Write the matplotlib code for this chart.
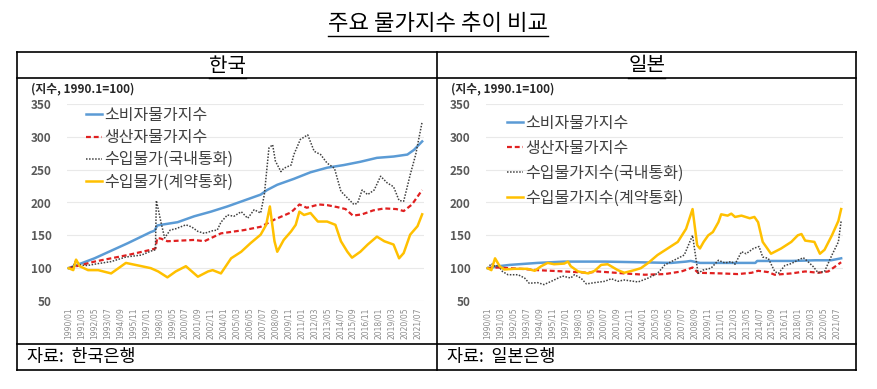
import matplotlib
matplotlib.use('Agg')
import matplotlib.pyplot as plt
from matplotlib.lines import Line2D

plt.rcParams['font.family'] = ['Noto Sans CJK KR', 'DejaVu Sans']

# x tick labels (every 14 months)
tick_labels = ['1990/01', '1991/03', '1992/05', '1993/07', '1994/09', '1995/11',
               '1997/01', '1998/03', '1999/05', '2000/07', '2001/09', '2002/11',
               '2004/01', '2005/03', '2006/05', '2007/07', '2008/09', '2009/11',
               '2011/01', '2012/03', '2013/05', '2014/07', '2015/09', '2016/11',
               '2018/01', '2019/03', '2020/05', '2021/07']

# ---- Korea (1990.1 = 100) ----
kr_cpi_m = ['1990/01', '1992/05', '1995/05', '1997/06', '1997/10', '1998/01', '1998/05',
            '1999/11', '2001/05', '2002/11', '2004/05', '2005/11', '2007/05', '2007/12',
            '2008/11', '2010/05', '2011/11', '2013/05', '2014/11', '2016/05', '2017/11',
            '2019/05', '2020/08', '2021/03', '2021/12']
kr_cpi = [100, 115, 138, 155, 157, 165, 166, 170, 179, 186, 194, 203, 212, 219,
          227, 236, 246, 253, 257, 262, 268, 270, 273, 280, 293]

kr_ppi_m = ['1990/01', '1992/05', '1995/05', '1997/06', '1997/11', '1998/01', '1998/05',
            '1998/12', '2001/05', '2002/04', '2003/10', '2005/11', '2007/05', '2008/08',
            '2010/02', '2010/11', '2011/07', '2012/08', '2013/05', '2014/04', '2015/01',
            '2015/09', '2016/07', '2017/07', '2018/07', '2019/08', '2020/04', '2021/01',
            '2021/12']
kr_ppi = [100, 110, 120, 128, 130, 146, 145, 141, 143, 141, 153, 158, 163, 174,
          185, 197, 192, 197, 196, 193, 190, 180, 182, 188, 191, 190, 187, 197, 219]

kr_imp_krw_m = ['1990/01', '1990/06', '1990/09', '1991/01', '1991/09', '1992/09',
                '1993/11', '1995/03', '1996/08', '1997/06', '1997/11', '1997/12',
                '1998/02', '1998/05', '1998/09', '1999/03', '1999/09', '2000/08',
                '2001/02', '2001/09', '2002/04', '2003/01', '2003/06', '2003/10',
                '2004/05', '2004/12', '2005/08', '2006/03', '2006/10', '2007/05',
                '2007/09', '2008/02', '2008/06', '2008/09', '2009/03', '2009/06',
                '2010/02', '2010/05', '2010/12', '2011/08', '2012/03', '2012/10',
                '2013/05', '2014/01', '2014/08', '2015/03', '2015/10', '2016/02',
                '2016/07', '2017/01', '2017/08', '2018/03', '2018/10', '2019/05',
                '2019/11', '2020/04', '2020/11', '2021/05', '2021/12']
kr_imp_krw = [100, 103, 113, 105, 104, 107, 110, 117, 120, 126, 128, 203, 190, 170,
              146, 158, 160, 166, 163, 156, 153, 157, 158, 170, 181, 179, 186, 176,
              189, 184, 212, 283, 288, 263, 247, 252, 257, 273, 296, 303, 278, 273,
              260, 252, 217, 207, 197, 199, 219, 212, 219, 240, 230, 224, 203, 202,
              242, 273, 323]

kr_imp_con_m = ['1990/01', '1990/06', '1990/09', '1991/01', '1991/10', '1992/09',
                '1993/11', '1995/03', '1996/08', '1997/06', '1998/02', '1998/12',
                '1999/09', '2000/08', '2001/09', '2002/08', '2003/01', '2003/10',
                '2004/09', '2005/08', '2006/06', '2007/05', '2007/11', '2008/03',
                '2008/08', '2008/11', '2009/06', '2010/02', '2010/07', '2010/11',
                '2011/04', '2011/11', '2012/07', '2013/05', '2014/02', '2014/08',
                '2015/03', '2015/08', '2016/05', '2017/01', '2017/11', '2018/07',
                '2019/05', '2019/11', '2020/04', '2020/11', '2021/07', '2021/12']
kr_imp_con = [100, 97, 113, 103, 97, 97, 92, 108, 103, 100, 95, 86, 95, 103, 87, 95,
              97, 92, 115, 125, 138, 151, 166, 194, 141, 125, 143, 156, 166, 186, 181,
              184, 171, 171, 166, 141, 125, 116, 125, 136, 148, 141, 136, 115, 123,
              151, 164, 182]

# ---- Japan (1990.1 = 100) ----
jp_cpi_m = ['1990/01', '1991/01', '1992/01', '1994/07', '1996/12', '2000/08', '2003/08',
            '2006/08', '2007/12', '2008/05', '2009/03', '2012/07', '2014/03', '2014/05',
            '2017/07', '2019/08', '2021/01', '2021/12']
jp_cpi = [100, 103, 105, 108, 110, 110, 109, 108, 110, 111, 108, 108, 108, 111,
          111, 112, 112, 115]

jp_ppi_m = ['1990/01', '1990/12', '1993/01', '1994/07', '1996/12', '1999/02', '1999/12',
            '2002/05', '2004/03', '2006/01', '2007/07', '2008/07', '2009/01', '2011/02',
            '2012/08', '2013/11', '2014/06', '2015/05', '2015/12', '2017/06', '2018/09',
            '2019/11', '2020/10', '2021/12']
jp_ppi = [100, 101, 99, 97, 95, 93, 95, 92, 90, 91, 95, 101, 93, 92, 91, 93, 96, 94,
          90, 92, 95, 93, 95, 109]

jp_imp_jpy_m = ['1990/01', '1990/05', '1990/10', '1990/12', '1991/05', '1991/11',
                '1992/10', '1993/05', '1993/10', '1994/07', '1995/02', '1995/10',
                '1996/10', '1997/07', '1997/11', '1998/06', '1998/12', '1999/09',
                '2000/08', '2001/03', '2001/10', '2002/05', '2003/08', '2004/07',
                '2005/05', '2006/01', '2006/08', '2007/03', '2007/10', '2008/07',
                '2009/01', '2009/06', '2010/03', '2010/11', '2011/06', '2012/01',
                '2012/05', '2012/12', '2013/05', '2014/01', '2014/07', '2014/11',
                '2015/05', '2015/12', '2016/04', '2016/11', '2017/06', '2018/01',
                '2018/07', '2018/12', '2019/06', '2019/11', '2020/06', '2021/02',
                '2021/09', '2021/12']
jp_imp_jpy = [100, 107, 102, 105, 95, 90, 90, 85, 77, 78, 75, 80, 88, 85, 90, 85, 76,
              78, 80, 84, 80, 82, 79, 85, 92, 105, 110, 115, 120, 150, 92, 97, 100,
              112, 108, 110, 106, 125, 122, 130, 133, 117, 115, 95, 92, 104, 107, 112,
              116, 110, 102, 93, 95, 120, 140, 172]

jp_imp_con_m = ['1990/01', '1990/05', '1990/09', '1991/02', '1991/07', '1992/06',
                '1993/08', '1994/04', '1994/11', '1995/06', '1996/01', '1996/12',
                '1997/04', '1997/07', '1998/03', '1999/02', '1999/09', '2000/04',
                '2000/11', '2001/10', '2002/05', '2003/04', '2003/11', '2004/07',
                '2005/05', '2006/04', '2007/03', '2007/12', '2008/07', '2008/12',
                '2009/03', '2009/07', '2009/12', '2010/05', '2010/11', '2011/02',
                '2011/09', '2012/01', '2012/05', '2012/12', '2013/09', '2014/02',
                '2014/06', '2014/11', '2015/08', '2016/07', '2017/06', '2018/01',
                '2018/05', '2018/09', '2019/07', '2020/01', '2020/06', '2021/02',
                '2021/09', '2021/12']
jp_imp_con = [100, 97, 115, 103, 98, 99, 99, 96, 103, 108, 106, 107, 110, 103, 95,
              92, 96, 105, 106, 97, 93, 97, 100, 108, 120, 130, 140, 160, 190, 135,
              130, 140, 150, 155, 170, 182, 180, 183, 178, 180, 176, 178, 170, 140,
              122, 130, 140, 150, 152, 142, 140, 122, 128, 150, 172, 190]

kr_labels = ['소비자물가지수', '생산자물가지수', '수입물가(국내통화)', '수입물가(계약통화)']
jp_labels = ['소비자물가지수', '생산자물가지수', '수입물가지수(국내통화)', '수입물가지수(계약통화)']

W, H = 878, 389


def month_index(s):
    y, m = s.split('/')
    return (int(y) - 1990) * 12 + int(m) - 1


def fx(px):
    return px / W


def fy(py):
    return 1 - py / H


def draw_panel(fig, left, series, labels, leg_x, leg_y, leg_space):
    ax = fig.add_axes([fx(left), fy(301), 357 / W, (301 - 104) / H])
    styles = [dict(color='#5B9BD5', lw=1.8, ls='-'),
              dict(color='#E02020', lw=1.6, ls=(0, (2.2, 1.3))),
              dict(color='#404040', lw=1.1, ls=(0, (1, 1))),
              dict(color='#FFC000', lw=1.8, ls='-')]
    for (m, v), st, lab in zip(series, styles, labels):
        ax.plot([month_index(s) for s in m], v, label=lab, **st)
    ax.set_xlim(-1.8, 385)
    ax.set_ylim(50, 350)
    ax.set_yticks(range(50, 351, 50))
    ax.set_xticks([month_index(s) for s in tick_labels])
    ax.set_xticklabels(tick_labels, rotation=90, fontsize=5.5, color='#8C8C8C',
                       family=['DejaVu Sans'])
    ax.tick_params(axis='x', length=0, pad=4.5)
    ax.tick_params(axis='y', length=0, pad=11, labelsize=8.5, labelcolor='#595959')
    for t in ax.get_yticklabels():
        t.set_fontweight('bold')
    ax.yaxis.grid(True, color='#E9E9E9', lw=0.8)
    ax.set_axisbelow(True)
    for sp in ax.spines.values():
        sp.set_visible(False)
    ax.legend(loc='upper left', bbox_to_anchor=(fx(leg_x), fy(leg_y)),
              bbox_transform=fig.transFigure, frameon=False, fontsize=11.5,
              handlelength=1.0, handletextpad=0.15, labelspacing=leg_space,
              borderaxespad=0, borderpad=0, labelcolor='#404040')
    return ax


def underline(fig, t, lw=1.0, gap=1.5):
    fig.canvas.draw()
    bb = t.get_window_extent()
    inv = fig.transFigure.inverted()
    (x0, y0), (x1, _) = inv.transform([(bb.x0, bb.y0 - gap), (bb.x1, bb.y0)])
    fig.add_artist(Line2D([x0, x1], [y0, y0], transform=fig.transFigure,
                          color='black', lw=lw))


fig = plt.figure(figsize=(W / 100, H / 100), dpi=100)

# table frame
frame = [((17, 856), (52, 52)), ((17, 856), (78, 78)), ((17, 856), (344, 344)),
         ((17, 856), (370, 370)), ((17, 17), (52, 370)), ((437, 437), (52, 370)),
         ((856, 856), (52, 370))]
for xs, ys in frame:
    fig.add_artist(Line2D([fx(x) for x in xs], [fy(y) for y in ys],
                          transform=fig.transFigure, color='black', lw=1.2))

title = fig.text(fx(438), fy(23), '주요 물가지수 추이 비교', ha='center', va='center',
                 fontsize=16)
h1 = fig.text(fx(227), fy(66), '한국', ha='center', va='center', fontsize=14.5)
h2 = fig.text(fx(647), fy(66), '일본', ha='center', va='center', fontsize=14.5)

fig.text(fx(27), fy(357), '자료:  한국은행', ha='left', va='center', fontsize=12.5)
fig.text(fx(447), fy(357), '자료:  일본은행', ha='left', va='center', fontsize=12.5)

fig.text(fx(31), fy(89), '(지수, 1990.1=100)', ha='left', va='center', fontsize=8.5,
         fontweight='bold', color='#262626')
fig.text(fx(451), fy(89), '(지수, 1990.1=100)', ha='left', va='center', fontsize=8.5,
         fontweight='bold', color='#262626')

draw_panel(fig, 67, [(kr_cpi_m, kr_cpi), (kr_ppi_m, kr_ppi),
                     (kr_imp_krw_m, kr_imp_krw), (kr_imp_con_m, kr_imp_con)],
           kr_labels, 86, 107, 0.32)
draw_panel(fig, 486, [(jp_cpi_m, jp_cpi), (jp_ppi_m, jp_ppi),
                      (jp_imp_jpy_m, jp_imp_jpy), (jp_imp_con_m, jp_imp_con)],
           jp_labels, 507, 115, 0.5)

for t in (title, h1, h2):
    underline(fig, t)

fig.savefig('out.png', dpi=100)
